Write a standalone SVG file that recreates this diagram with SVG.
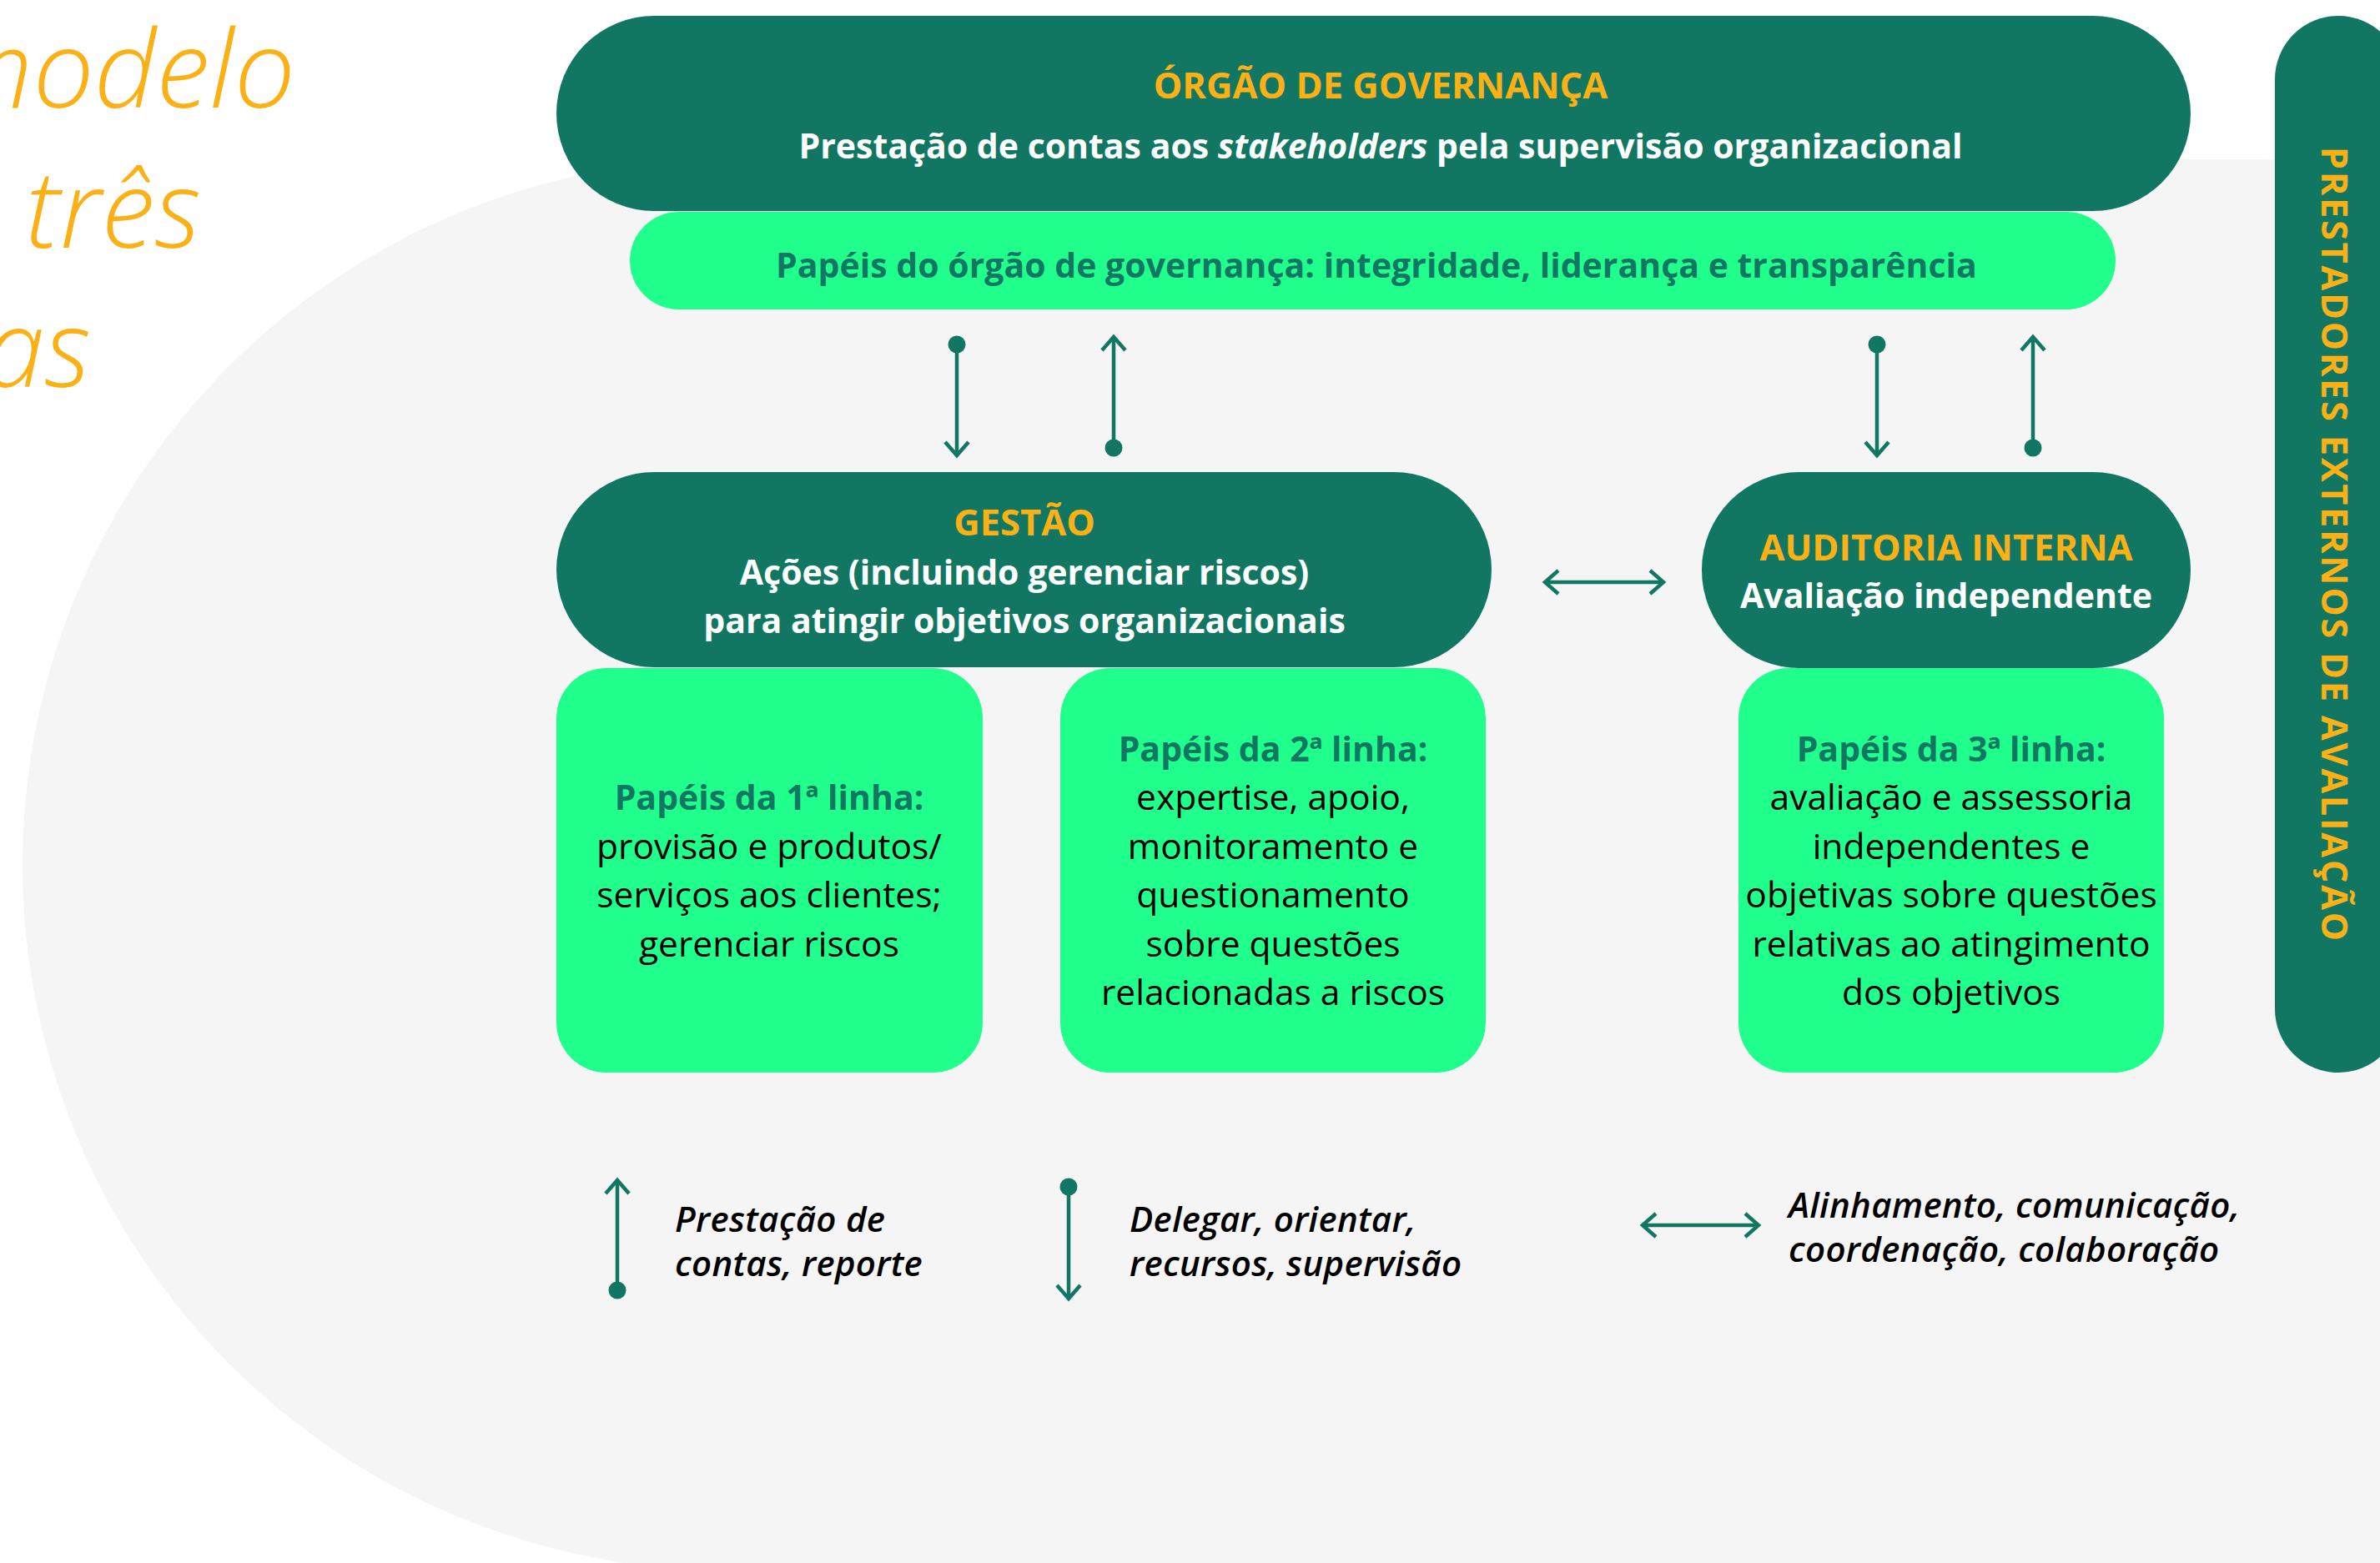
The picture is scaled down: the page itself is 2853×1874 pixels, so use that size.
<svg xmlns="http://www.w3.org/2000/svg" width="2853" height="1874" viewBox="0 0 2853 1874">
<defs>
<style>
.dk{fill:#127762}
.lt{fill:#20FF8C}
text{font-family:"Open Sans",Lato,"Liberation Sans",sans-serif}
.hd{fill:#FBB116;font-weight:700;font-size:43.5px;text-anchor:middle}
.wt{fill:#FFFFFF;font-weight:700;font-size:41px;text-anchor:middle}
.gt{fill:#127762;font-weight:700;font-size:41px;text-anchor:middle}
.bk{fill:#000000;font-weight:400;font-size:42.5px;text-anchor:middle}
.lg{fill:#000000;font-weight:600;font-style:italic;font-size:42px;letter-spacing:0.3px}
.ttl{fill:#FBB116;font-weight:300;font-style:italic;font-size:130px;text-anchor:end}
.vt{fill:#FBB116;font-weight:700;font-size:43px}
.con{stroke:#127762;stroke-width:4.5;fill:none}
</style>
<marker id="dot" markerUnits="userSpaceOnUse" viewBox="-12 -12 24 24" markerWidth="24" markerHeight="24" refX="0" refY="0" orient="auto">
<circle cx="0" cy="0" r="10.5" fill="#127762"/>
</marker>
<marker id="chev" markerUnits="userSpaceOnUse" viewBox="-22 -20 26 40" markerWidth="26" markerHeight="40" refX="0" refY="0" orient="auto-start-reverse">
<polyline points="-16,-14 0,0 -16,14" fill="none" stroke="#127762" stroke-width="4.5" stroke-linejoin="miter"/>
</marker>
</defs>
<rect x="0" y="0" width="2853" height="1874" fill="#FFFFFF"/>
<path d="M2853 191 H873 A846 846 0 0 0 873 1883 H2853 Z" fill="#F5F5F5"/>
<g id="title">
<text class="ttl" x="354" y="129">modelo</text>
<text class="ttl" x="241" y="297">três</text>
<text class="ttl" x="109" y="464">as</text>
</g>
<g id="orgao-governanca">
<rect class="dk" x="667" y="19" width="1959" height="234" rx="117"/>
<text class="hd" x="1655" y="118">ÓRGÃO DE GOVERNANÇA</text>
<text class="wt" x="1655" y="190">Prestação de contas aos <tspan font-style="italic">stakeholders</tspan> pela supervisão organizacional</text>
</g>
<g id="papeis-governanca">
<rect class="lt" x="755" y="254" width="1781" height="117" rx="58.5"/>
<text class="gt" x="1650" y="333">Papéis do órgão de governança: integridade, liderança e transparência</text>
</g>
<g id="gestao">
<rect class="dk" x="667" y="566" width="1121" height="234" rx="117"/>
<text class="hd" x="1228" y="642">GESTÃO</text>
<text class="wt" x="1228" y="701">Ações (incluindo gerenciar riscos)</text>
<text class="wt" x="1228" y="759">para atingir objetivos organizacionais</text>
</g>
<g id="auditoria-interna">
<rect class="dk" x="2040" y="566" width="586" height="235" rx="117"/>
<text class="hd" x="2333" y="672">AUDITORIA INTERNA</text>
<text class="wt" x="2333" y="729">Avaliação independente</text>
</g>
<g id="primeira-linha">
<rect class="lt" x="667" y="801" width="511" height="485" rx="60"/>
<text class="gt" x="922" y="971">Papéis da 1ª linha:</text>
<text class="bk" x="922" y="1030">provisão e produtos/</text>
<text class="bk" x="922" y="1088">serviços aos clientes;</text>
<text class="bk" x="922" y="1147">gerenciar riscos</text>
</g>
<g id="segunda-linha">
<rect class="lt" x="1271" y="801" width="510" height="485" rx="60"/>
<text class="gt" x="1526" y="913">Papéis da 2ª linha:</text>
<text class="bk" x="1526" y="971">expertise, apoio,</text>
<text class="bk" x="1526" y="1030">monitoramento e</text>
<text class="bk" x="1526" y="1088">questionamento</text>
<text class="bk" x="1526" y="1147">sobre questões</text>
<text class="bk" x="1526" y="1205">relacionadas a riscos</text>
</g>
<g id="terceira-linha">
<rect class="lt" x="2084" y="801" width="510" height="485" rx="60"/>
<text class="gt" x="2339" y="913">Papéis da 3ª linha:</text>
<text class="bk" x="2339" y="971">avaliação e assessoria</text>
<text class="bk" x="2339" y="1030">independentes e</text>
<text class="bk" x="2339" y="1088">objetivas sobre questões</text>
<text class="bk" x="2339" y="1147">relativas ao atingimento</text>
<text class="bk" x="2339" y="1205">dos objetivos</text>
</g>
<g id="prestadores-externos">
<rect class="dk" x="2727" y="19" width="152" height="1267" rx="76"/>
<text class="vt" transform="translate(2783,176) rotate(90)" textLength="952" lengthAdjust="spacing">PRESTADORES EXTERNOS DE AVALIAÇÃO</text>
</g>
<g id="connectors">
<path class="con" d="M1147 413 V546" marker-start="url(#dot)" marker-end="url(#chev)"/>
<path class="con" d="M1335 537 V404" marker-start="url(#dot)" marker-end="url(#chev)"/>
<path class="con" d="M2250 413 V546" marker-start="url(#dot)" marker-end="url(#chev)"/>
<path class="con" d="M2437 537 V404" marker-start="url(#dot)" marker-end="url(#chev)"/>
<path class="con" d="M1852 698 H1994" marker-start="url(#chev)" marker-end="url(#chev)"/>
</g>
<g id="legenda">
<path class="con" d="M740 1547 V1415" marker-start="url(#dot)" marker-end="url(#chev)"/>
<text class="lg" x="809" y="1477">Prestação de</text>
<text class="lg" x="809" y="1530">contas, reporte</text>
<path class="con" d="M1281 1423 V1557" marker-start="url(#dot)" marker-end="url(#chev)"/>
<text class="lg" x="1354" y="1477">Delegar, orientar,</text>
<text class="lg" x="1354" y="1530">recursos, supervisão</text>
<path class="con" d="M1969 1469 H2108" marker-start="url(#chev)" marker-end="url(#chev)"/>
<text class="lg" x="2144" y="1460">Alinhamento, comunicação,</text>
<text class="lg" x="2144" y="1513">coordenação, colaboração</text>
</g>
</svg>
